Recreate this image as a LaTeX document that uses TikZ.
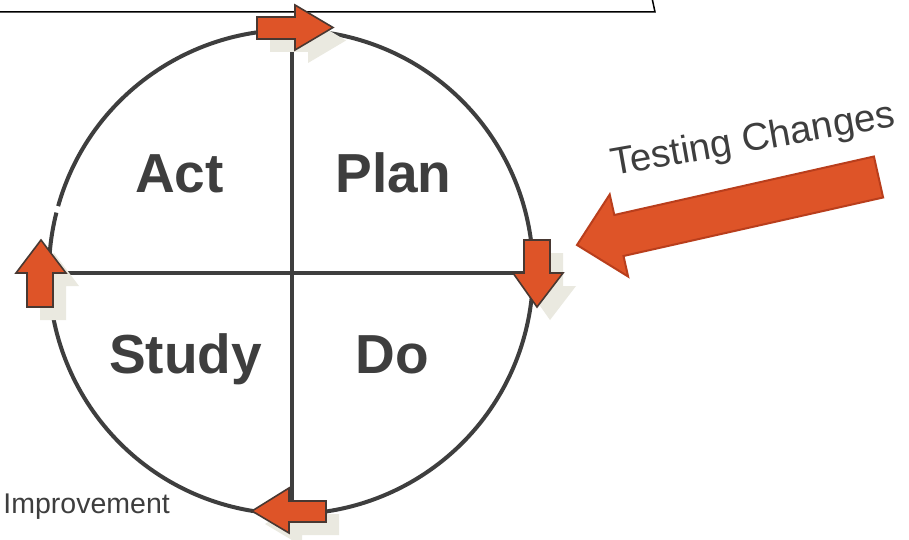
\documentclass[tikz,border=0pt]{standalone}
\usepackage{fontspec}
\setmainfont{Liberation Sans}
\definecolor{ora}{RGB}{222,84,40}
\definecolor{oraline}{RGB}{72,56,50}
\definecolor{bigline}{RGB}{185,62,28}
\definecolor{shade}{RGB}{234,233,224}
\definecolor{ink}{RGB}{62,62,62}
\begin{document}
\begin{tikzpicture}[x=1pt,y=-1pt,
  ringline/.style={draw=ink,line width=4pt},
  crossline/.style={draw=ink,line width=3.5pt},
  blockarrow/.style={fill=ora,draw=oraline,line width=1.6pt,line join=miter},
  arrowshadow/.style={fill=shade,draw=none},
  quadlabel/.style={text=ink,font=\fontsize{55}{60}\selectfont\bfseries,anchor=base,inner sep=0pt},
  sidelabel/.style={text=ink,inner sep=0pt}]
\useasboundingbox (0,0) rectangle (909,540);
\fill[white] (0,0) rectangle (909,540);
% top box edge
\draw[black,line width=1.5pt] (0,12) -- (655,12) -- (652,-2);
% circle and cross
\coordinate (c) at (291,272);
\draw[ringline] (c) ++(195.8:242) arc[start angle=195.8,end angle=554.2,radius=242];
\draw[crossline] (292,30) -- (292,514);
\draw[crossline] (49,273) -- (533,273);
% shadows
\fill[arrowshadow,shift={(13,13)}] (257,17) -- (295,17) -- (295,5) -- (333,27.5) -- (295,50) -- (295,39) -- (257,39) -- cycle;
\fill[arrowshadow,shift={(13,13)}] (524,240) -- (550,240) -- (550,273) -- (563,273) -- (537,307) -- (513,273) -- (524,273) -- cycle;
\fill[arrowshadow,shift={(13,13)}] (41,240) -- (66,273) -- (53,273) -- (53,307) -- (27,307) -- (27,273) -- (16,273) -- cycle;
\fill[arrowshadow,shift={(13,13)}] (252,511) -- (289,488) -- (289,501) -- (326,501) -- (326,522) -- (289,522) -- (289,533) -- cycle;
% cycle arrows
\draw[blockarrow] (257,17) -- (295,17) -- (295,5) -- (333,27.5) -- (295,50) -- (295,39) -- (257,39) -- cycle;
\draw[blockarrow] (524,240) -- (550,240) -- (550,273) -- (563,273) -- (537,307) -- (513,273) -- (524,273) -- cycle;
\draw[blockarrow] (41,240) -- (66,273) -- (53,273) -- (53,307) -- (27,307) -- (27,273) -- (16,273) -- cycle;
\draw[blockarrow] (252,511) -- (289,488) -- (289,501) -- (326,501) -- (326,522) -- (289,522) -- (289,533) -- cycle;
% big arrow
\draw[fill=ora,draw=bigline,line width=2pt,line join=miter] (873.9,156.5) -- (614.3,215.0) -- (609.7,194.5) -- (577,245) -- (628.1,276.5) -- (623.5,256.0) -- (883.1,197.5) -- cycle;
% labels
\node[quadlabel] (act) at (179.5,193) {Act};
\node[quadlabel] (plan) at (393.5,193) {Plan};
\node[quadlabel] (study) at (185.5,373) {Study};
\node[quadlabel] (do) at (392,373) {Do};
\node[sidelabel,font=\fontsize{38.5}{42}\selectfont,anchor=base,rotate=10] (testing) at (755,151) {Testing Changes};
\node[sidelabel,font=\fontsize{28.5}{32}\selectfont,anchor=base east] (improvement) at (170,513) {Improvement};
\end{tikzpicture}
\end{document}
